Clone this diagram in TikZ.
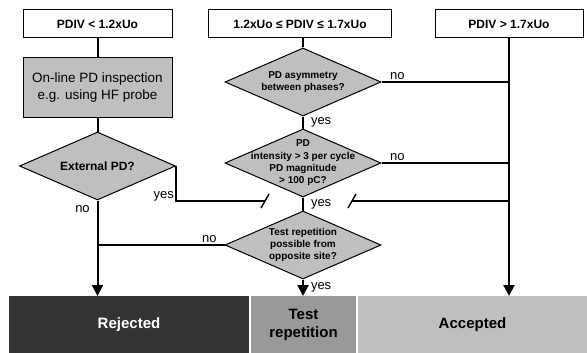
\documentclass[tikz,border=0pt]{standalone}
\usepackage{fontspec}
\setmainfont{Liberation Sans}
\usetikzlibrary{positioning,arrows.meta,shapes.geometric}

\begin{document}
\begin{tikzpicture}[
  x=1pt, y=1pt,
  node distance=12pt,
  cond/.style={draw, line width=1pt, fill=white, minimum height=28pt, inner sep=0pt,
               font=\fontsize{12}{14}\selectfont\bfseries},
  insp/.style={draw, line width=1pt, fill=black!25, minimum width=149pt, minimum height=60pt,
               align=center, font=\fontsize{13.5}{17}\selectfont},
  dec/.style={diamond, draw, line width=1pt, fill=black!25, minimum width=156pt,
              minimum height=68pt, inner sep=0pt},
  dectext/.style={align=center, inner sep=0pt, font=\fontsize{10}{12.3}\selectfont\bfseries},
  result/.style={minimum height=57pt, inner sep=0pt, outer sep=0pt, align=center,
                 font=\fontsize{15}{18}\selectfont\bfseries},
  lbl/.style={inner sep=1pt, font=\fontsize{13}{15}\selectfont},
  flow/.style={line width=2pt},
  arr/.style={flow, -{Triangle[length=11pt, width=11pt]}},
  tick/.style={line width=1.4pt}
]
\useasboundingbox (0,0) rectangle (587,-353);

% ===== Top row: PDIV ranges =====
\node[cond, minimum width=149pt] (h1) at (97.5,-24) {PDIV < 1.2xUo};
\node[cond, minimum width=183pt] (h2) at (300,-24) {1.2xUo ≤ PDIV ≤ 1.7xUo};
\node[cond, minimum width=148pt] (h3) at (509,-24) {PDIV > 1.7xUo};

% ===== Bottom row: outcomes =====
\node[result, fill=black!80, text=white, minimum width=240pt] (rej) at (129,-324.5) {Rejected};
\node[result, fill=black!40, minimum width=105pt, right=2pt of rej] (test) {Test\\repetition};
\node[result, fill=black!25, minimum width=229pt, right=2pt of test] (acc) {Accepted};

% ===== Left column: low PDIV =====
\node[insp, below=19pt of h1] (insp) {On-line PD inspection\\e.g. using HF probe};
\node[dec, below=13pt of insp, label={[dectext, font=\fontsize{12}{14}\selectfont\bfseries]center:External PD?}] (ext) {};
\draw[flow] (h1) -- (insp);
\draw[flow] (insp) -- (ext);
\draw[arr] (ext.south) -- (ext.south |- rej.north);
\node[lbl] at ([xshift=-15pt, yshift=-9pt]ext.south) {no};

% ===== Centre column: medium PDIV =====
\node[dec, below=9pt of h2, xshift=3pt,
      label={[dectext]center:{PD asymmetry\\between phases?}}] (d1) {};
\node[dec, below=12pt of d1,
      label={[dectext]center:{PD\\intensity > 3 per cycle\\PD magnitude\\> 100 pC?}}] (d2) {};
\node[dec, below=13pt of d2,
      label={[dectext]center:{Test repetition\\possible from\\opposite site?}}] (d3) {};
\draw[flow] (d1.north) -- (d1.north |- h2.south);
\draw[flow] (d1) -- (d2) node[lbl, midway, right=6pt] {yes};
\draw[flow] (d2) -- (d3) node[lbl, midway, right=6pt] {yes};
\draw[arr] (d3.south) -- (d3.south |- test.north) node[lbl, midway, right=6pt] {yes};
\draw[flow] (d3.west) -- (d3.west -| ext.south) node[lbl, pos=0.12, above] {no};

% ===== Right column: high PDIV =====
\draw[arr] (h3.south) -- (h3.south |- acc.north);
\draw[flow] (d1.east) -- (d1.east -| h3.south) node[lbl, pos=0.125, above] {no};
\draw[flow] (d2.east) -- (d2.east -| h3.south) node[lbl, pos=0.125, above] {no};

% ===== Jumps onto the yes line =====
\coordinate (jl) at (265,-201);
\coordinate (jr) at (352,-201);
\draw[flow] (ext.east) |- (jl);
\node[lbl, left=1pt] at ([yshift=5pt]ext.east |- jl) {yes};
\draw[tick] ([shift={(-4pt,-7pt)}]jl) -- ([shift={(4pt,7pt)}]jl);
\draw[flow] (h3.south |- jr) -- (jr);
\draw[tick] ([shift={(-4pt,-7pt)}]jr) -- ([shift={(4pt,7pt)}]jr);

\end{tikzpicture}
\end{document}
